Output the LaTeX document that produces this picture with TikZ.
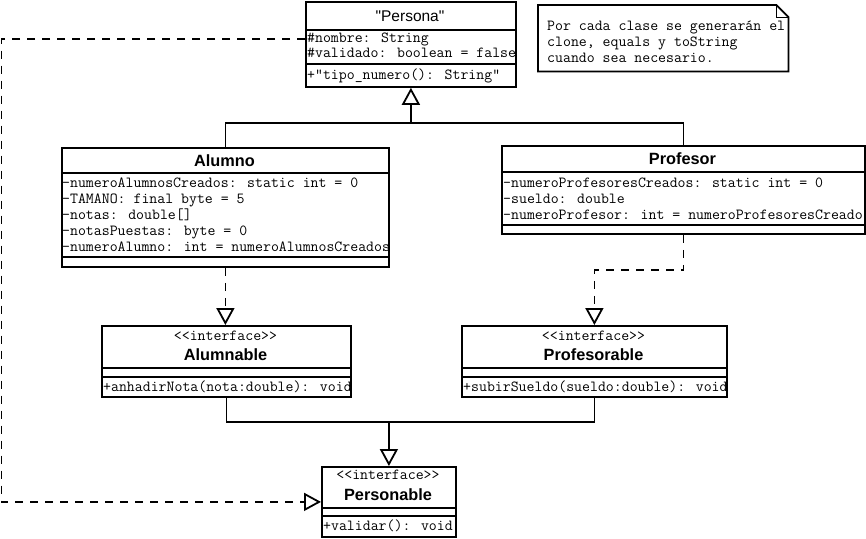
\documentclass[tikz,border=0pt]{standalone}
\usepackage{fontspec}
\setmainfont{Liberation Sans}
% plain family without TeX ligature mapping, so " stays straight
\newfontfamily\umlsans{Liberation Sans}
\usetikzlibrary{arrows.meta}

% break ligatures such as << and >> in the typewriter font
\newcommand\ltlt{<\kern0pt<}
\newcommand\gtgt{>\kern0pt>}

\tikzset{
  umlbox/.style={draw, line width=1.8pt, inner sep=0pt, anchor=north west},
  boxline/.style={line width=1.8pt},
  conn/.style={line width=1.8pt},
  dashconn/.style={line width=1.8pt, dash pattern=on 8pt off 7pt},
  realize/.style={-{Triangle[open,length=17pt,width=18pt,line width=1.8pt]}},
  attr/.style={anchor=base west, inner sep=0pt, font=\ttfamily\fontsize{15.4}{16}\selectfont},
  stereo/.style={anchor=base, inner sep=0pt, font=\ttfamily\fontsize{15.4}{16}\selectfont},
  cname/.style={anchor=base, inner sep=0pt, font=\umlsans\bfseries\fontsize{16.3}{18}\selectfont},
  ctitle/.style={anchor=base, inner sep=0pt, font=\umlsans\fontsize{15.5}{18}\selectfont},
}

% horizontal compartment rule across a class box at height #2
\newcommand\umlrule[2]{\draw[boxline] (#1.west |- 0,#2) -- (#1.east |- 0,#2);}

\begin{document}
\begin{tikzpicture}[x=1pt, y=-1pt]
\useasboundingbox (0,0) rectangle (866,538);

% ---------- class Persona ----------
\node[umlbox, minimum width=210pt, minimum height=85pt] (persona) at (305,1) {};
\umlrule{persona}{30}
\umlrule{persona}{64}
\node[ctitle] (personaT) at (410,21.5) {"Persona"};
\node[attr] (pa1) at (307,42) {\#nombre: String};
\node[attr] (pa2) at (307,57) {\#validado: boolean = false};
\node[attr] (pm1) at (307,79) {+"tipo\_numero(): String"};

% ---------- note ----------
\node[inner sep=0pt, minimum width=250pt, minimum height=66pt, anchor=north west] (note) at (538,5) {};
\draw[boxline] (note.north west) -- ([xshift=-12pt]note.north east) -- ([yshift=-12pt]note.north east)
  -- (note.south east) -- (note.south west) -- cycle;
\draw[line width=1pt] ([xshift=-12pt]note.north east) -- ([xshift=-12pt,yshift=-12pt]note.north east)
  -- ([yshift=-12pt]note.north east);
\node[attr] (n1) at (547,30.5) {Por cada clase se generarán el};
\node[attr] (n2) at (547,46.5) {clone, equals y toString};
\node[attr] (n3) at (547,62.5) {cuando sea necesario.};

% ---------- class Alumno ----------
\node[umlbox, minimum width=327pt, minimum height=119pt] (alumno) at (61,147) {};
\umlrule{alumno}{173}
\umlrule{alumno}{257}
\node[cname] (alumnoT) at (224.5,166) {Alumno};
\node[attr] (al1) at (62,187.5) {-numeroAlumnosCreados: static int = 0};
\node[attr] (al2) at (62,203.5) {-TAMANO: final byte = 5};
\node[attr] (al3) at (62,219.5) {-notas: double[]};
\node[attr] (al4) at (62,235.5) {-notasPuestas: byte = 0};
\node[attr] (al5) at (62,251) {-numeroAlumno: int = numeroAlumnosCreados};

% ---------- class Profesor ----------
\node[umlbox, minimum width=363pt, minimum height=88pt] (profesor) at (501,145) {};
\umlrule{profesor}{172}
\umlrule{profesor}{225}
\node[cname] (profesorT) at (682.5,164.5) {Profesor};
\node[attr] (pr1) at (503,187.5) {-numeroProfesoresCreados: static int = 0};
\node[attr] (pr2) at (503,203.5) {-sueldo: double};
\node[attr] (pr3) at (503,219.5) {-numeroProfesor: int = numeroProfesoresCreado};

% ---------- interface Alumnable ----------
\node[umlbox, minimum width=249pt, minimum height=71pt] (alumnable) at (101,325) {};
\umlrule{alumnable}{368}
\umlrule{alumnable}{377}
\node[stereo] (alS) at (225.5,340) {\ltlt interface\gtgt};
\node[cname] (alumnableT) at (225.5,360.5) {Alumnable};
\node[attr] (alm) at (103,391) {+anhadirNota(nota:double): void};

% ---------- interface Profesorable ----------
\node[umlbox, minimum width=265pt, minimum height=71pt] (profesorable) at (461,325) {};
\umlrule{profesorable}{368}
\umlrule{profesorable}{377}
\node[stereo] (prS) at (593.5,340) {\ltlt interface\gtgt};
\node[cname] (profesorableT) at (593.5,360.5) {Profesorable};
\node[attr] (prm) at (463,391) {+subirSueldo(sueldo:double): void};

% ---------- interface Personable ----------
\node[umlbox, minimum width=134pt, minimum height=70pt] (personable) at (321,466) {};
\umlrule{personable}{508}
\umlrule{personable}{516}
\node[stereo] (peS) at (388,479) {\ltlt interface\gtgt};
\node[cname] (personableT) at (388,500.5) {Personable};
\node[attr] (pem) at (323,530) {+validar(): void};

% ---------- relations ----------
% Alumno and Profesor extend Persona
\coordinate (jTop) at (persona.south |- 0,123);
\draw[conn] (alumno.north) |- (jTop) -| (profesor.north);
\draw[conn, realize] (jTop) -- (persona.south);

% Alumno realizes Alumnable
\draw[dashconn, realize] (alumno.south) -- (alumno.south |- alumnable.north);

% Profesor realizes Profesorable
\coordinate (jProf) at (profesor.south |- 0,270);
\draw[dashconn, realize] (profesor.south) -- (jProf) -| (profesorable.north);

% Alumnable and Profesorable extend Personable
\coordinate (jInt) at (personable.north |- 0,422);
\draw[conn] (alumnable.south) |- (jInt) -| (profesorable.south);
\draw[conn, realize] (jInt) -- (personable.north);

% Persona realizes Personable
\coordinate (pLeft) at ([yshift=-38pt]persona.north west);
\coordinate (lRail) at (1.5,39);
\draw[dashconn, realize] (pLeft) -- (lRail) |- (personable.west);
\end{tikzpicture}
\end{document}
